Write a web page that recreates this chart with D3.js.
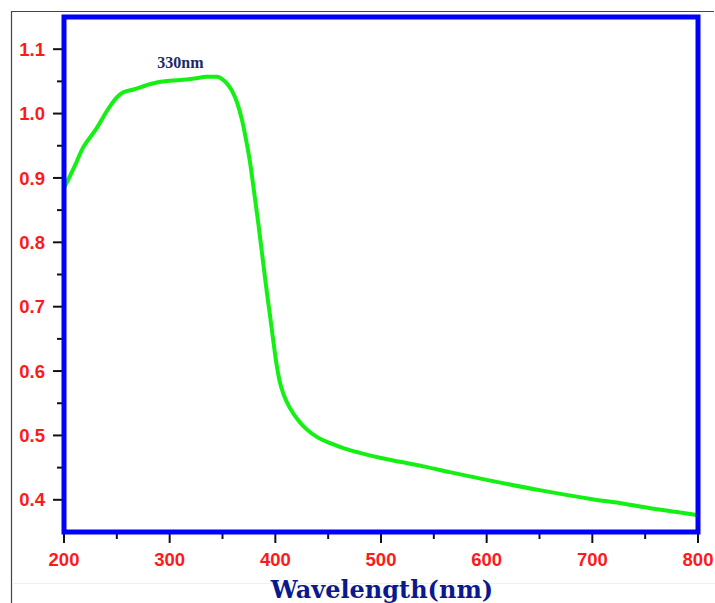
<!doctype html>
<html lang="en">
<head>
    <meta charset="UTF-8">
    <title>Absorbance spectrum</title>
    <script src="https://d3js.org/d3.v7.min.js"></script>
    <style>
        body { margin: 0; background: #fff; }
    </style>
</head>
<body>
<div id="chart-area"></div>

<script>
// spectrum
const wavelength = [200, 210, 218, 230, 243, 250, 256, 265, 278, 290, 300, 316, 325, 335, 345, 350, 355,
    360, 364, 368, 372, 376, 380, 384, 388, 392, 395, 398, 401, 404, 408, 414, 422, 430, 440, 452,
    465, 480, 500, 518, 540, 565, 600, 650, 700, 730, 755, 780, 800];
const absorbance = [0.884, 0.918, 0.947, 0.975, 1.010, 1.025, 1.033, 1.037, 1.044, 1.049, 1.051, 1.053,
    1.055, 1.057, 1.057, 1.053, 1.045, 1.032, 1.016, 0.993, 0.962, 0.925, 0.877, 0.828, 0.775, 0.722,
    0.686, 0.648, 0.612, 0.585, 0.563, 0.542, 0.523, 0.509, 0.497, 0.488, 0.480, 0.473, 0.465, 0.459,
    0.452, 0.443, 0.431, 0.415, 0.401, 0.394, 0.387, 0.381, 0.376];

const xTicks = [200, 300, 400, 500, 600, 700, 800];
const xMinor = [250, 350, 450, 550, 650, 750];
const yTicks = [0.4, 0.5, 0.6, 0.7, 0.8, 0.9, 1.0, 1.1];
const yMinor = [0.45, 0.55, 0.65, 0.75, 0.85, 0.95, 1.05];

const peakLabel = { text: '330nm', wl: 330, value: 1.057 };
const xTitle = 'Wavelength(nm)';

const W = 715, H = 603;
const plotL = 64, plotR = 698, plotT = 17, plotB = 532;

const svg = d3.select('#chart-area')
    .append('svg')
    .attr('width', W)
    .attr('height', H);

// thin outer frame of the figure
svg.append('line').attr('x1', 11).attr('y1', 11.5).attr('x2', 714).attr('y2', 11.5)
    .attr('stroke', '#444').attr('stroke-width', 1.2);
svg.append('line').attr('x1', 11.5).attr('y1', 11).attr('x2', 11.5).attr('y2', H)
    .attr('stroke', '#444').attr('stroke-width', 1.2);
svg.append('line').attr('x1', 12).attr('y1', 583.5).attr('x2', W).attr('y2', 583.5)
    .attr('stroke', '#f0f0f0').attr('stroke-width', 1);

const x = d3.scaleLinear().domain([200, 800]).range([plotL, plotR]);
const y = d3.scaleLinear().domain([0.35, 1.15]).range([plotB, plotT]);

// ticks (outward, black)
const xAxis = svg.append('g').attr('transform', `translate(0,${plotB + 2})`);
xAxis.selectAll('line.major').data(xTicks).enter().append('line')
    .attr('x1', d => x(d)).attr('x2', d => x(d)).attr('y1', 0).attr('y2', 9)
    .attr('stroke', '#111').attr('stroke-width', 2);
xAxis.selectAll('line.minor').data(xMinor).enter().append('line')
    .attr('x1', d => x(d)).attr('x2', d => x(d)).attr('y1', 0).attr('y2', 5)
    .attr('stroke', '#111').attr('stroke-width', 2);
xAxis.selectAll('text').data(xTicks).enter().append('text')
    .attr('x', d => x(d)).attr('y', 32)
    .attr('text-anchor', 'middle')
    .style('font-family', '"Liberation Sans", Arial, sans-serif')
    .style('font-weight', 'bold')
    .style('font-size', '18.5px')
    .attr('fill', '#ff1a1a')
    .text(d => d);

const yAxis = svg.append('g').attr('transform', `translate(${plotL - 2},0)`);
yAxis.selectAll('line.major').data(yTicks).enter().append('line')
    .attr('x1', 0).attr('x2', -9).attr('y1', d => y(d)).attr('y2', d => y(d))
    .attr('stroke', '#111').attr('stroke-width', 2);
yAxis.selectAll('line.minor').data(yMinor).enter().append('line')
    .attr('x1', 0).attr('x2', -5).attr('y1', d => y(d)).attr('y2', d => y(d))
    .attr('stroke', '#111').attr('stroke-width', 2);
yAxis.selectAll('text').data(yTicks).enter().append('text')
    .attr('x', -17).attr('y', d => y(d))
    .attr('dy', '0.36em')
    .attr('text-anchor', 'end')
    .style('font-family', '"Liberation Sans", Arial, sans-serif')
    .style('font-weight', 'bold')
    .style('font-size', '18.5px')
    .attr('fill', '#ff1a1a')
    .text(d => d.toFixed(1));

// curve
const data = wavelength.map((w, i) => [w, absorbance[i]]);
const line = d3.line()
    .x(d => x(d[0]))
    .y(d => y(d[1]))
    .curve(d3.curveMonotoneX);

svg.append('path')
    .datum(data)
    .attr('d', line)
    .attr('fill', 'none')
    .attr('stroke', '#14f014')
    .attr('stroke-width', 4)
    .attr('stroke-linejoin', 'round');

// blue frame of the plot
svg.append('rect')
    .attr('x', plotL)
    .attr('y', plotT)
    .attr('width', plotR - plotL)
    .attr('height', plotB - plotT)
    .attr('fill', 'none')
    .attr('stroke', '#0000ff')
    .attr('stroke-width', 5);

svg.append('text')
    .attr('x', x(peakLabel.wl) - 21)
    .attr('y', 68)
    .attr('text-anchor', 'middle')
    .style('font-family', '"Liberation Serif", "Times New Roman", serif')
    .style('font-weight', 'bold')
    .style('font-size', '16px')
    .attr('fill', '#1b2a66')
    .text(peakLabel.text);

svg.append('text')
    .attr('x', 382)
    .attr('y', 598)
    .attr('text-anchor', 'middle')
    .style('font-family', '"DejaVu Serif", serif')
    .style('font-weight', 'bold')
    .style('font-size', '24px')
    .attr('fill', '#0a1a8c')
    .text(xTitle);
</script>

</body>
</html>
